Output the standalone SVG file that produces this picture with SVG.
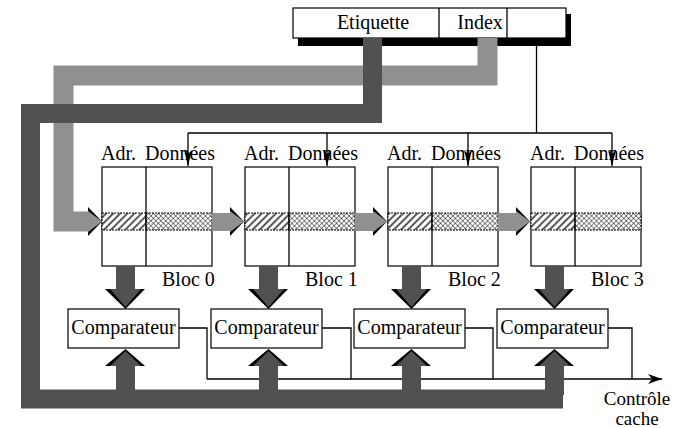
<svg xmlns="http://www.w3.org/2000/svg" width="681" height="428" viewBox="0 0 681 428">
<style>
text{font-family:"Liberation Serif","Times New Roman",serif;font-size:20px;fill:#000}
.small{font-size:19px}
.box{fill:#fff;stroke:#000;stroke-width:1.2}
.thin{fill:none;stroke:#000;stroke-width:1.3}
.dark{fill:#515151}
.light{fill:#909090}
.blk{fill:#000}
.strip{stroke:#000;stroke-width:1;stroke-dasharray:2 1}
</style>
<defs>
<pattern id="diag" width="5" height="5" patternUnits="userSpaceOnUse" patternTransform="rotate(45)">
<rect width="5" height="5" fill="#fff"/>
<line x1="1" y1="0" x2="1" y2="5" stroke="#000" stroke-width="1.3"/>
</pattern>
<pattern id="cross" width="3.5" height="3.5" patternUnits="userSpaceOnUse" patternTransform="rotate(45)">
<rect width="3.5" height="3.5" fill="#fff"/>
<line x1="0" y1="0" x2="0" y2="3.5" stroke="#000" stroke-width="0.9"/>
<line x1="0" y1="0" x2="3.5" y2="0" stroke="#000" stroke-width="0.9"/>
</pattern>
<marker id="ah" markerWidth="14" markerHeight="10" refX="14" refY="5" orient="auto" markerUnits="userSpaceOnUse">
<path d="M0,0 L14,5 L0,10 L4,5 Z" fill="#000"/>
</marker>
<marker id="ah2" markerWidth="16" markerHeight="10" refX="16" refY="5" orient="auto" markerUnits="userSpaceOnUse">
<path d="M0,1 L16,5 L0,9 L4,5 Z" fill="#000"/>
</marker>
</defs>

<g id="adresse">
<rect x="298" y="14" width="273" height="32" fill="#000"/>
<rect class="box" x="293" y="8" width="273" height="30"/>
<line class="thin" x1="439" y1="8" x2="439" y2="38"/>
<line class="thin" x1="507" y1="8" x2="507" y2="38"/>
<text x="373" y="29" text-anchor="middle">Etiquette</text>
<text x="480" y="29" text-anchor="middle">Index</text>
</g>

<g id="connecteurs">
<path d="M487.5,38 V75.5 H63.5 V221.5 H90" fill="none" stroke="#909090" stroke-width="20" stroke-linejoin="miter"/>
<path d="M372.5,38 V113.5 H30.5 V399 H563" fill="none" stroke="#515151" stroke-width="19" stroke-linejoin="miter"/>
<path class="thin" d="M536.5,46 V133"/>
<path class="thin" d="M188,133 H612"/>
<line class="thin" x1="188" y1="133" x2="188" y2="166" marker-end="url(#ah2)"/>
<line class="thin" x1="327" y1="133" x2="327" y2="166" marker-end="url(#ah2)"/>
<line class="thin" x1="468" y1="133" x2="468" y2="166" marker-end="url(#ah2)"/>
<line class="thin" x1="612" y1="133" x2="612" y2="166" marker-end="url(#ah2)"/>
</g>

<g id="bloc0">
<rect class="box" x="102" y="167" width="110" height="99"/>
<rect class="strip" x="102" y="213" width="44" height="17" fill="url(#diag)"/>
<rect class="strip" x="146" y="213" width="66" height="17" fill="url(#cross)"/>
<line class="thin" x1="146" y1="167" x2="146" y2="266"/>
<text x="101" y="160">Adr.</text>
<text x="145" y="160">Données</text>
<text x="162" y="286">Bloc 0</text>
</g>
<g id="bloc1">
<rect class="box" x="245" y="167" width="110" height="99"/>
<rect class="strip" x="245" y="213" width="44" height="17" fill="url(#diag)"/>
<rect class="strip" x="289" y="213" width="66" height="17" fill="url(#cross)"/>
<line class="thin" x1="289" y1="167" x2="289" y2="266"/>
<text x="244" y="160">Adr.</text>
<text x="288" y="160">Données</text>
<text x="305" y="286">Bloc 1</text>
</g>
<g id="bloc2">
<rect class="box" x="388" y="167" width="110" height="99"/>
<rect class="strip" x="388" y="213" width="44" height="17" fill="url(#diag)"/>
<rect class="strip" x="432" y="213" width="66" height="17" fill="url(#cross)"/>
<line class="thin" x1="432" y1="167" x2="432" y2="266"/>
<text x="387" y="160">Adr.</text>
<text x="431" y="160">Données</text>
<text x="448" y="286">Bloc 2</text>
</g>
<g id="bloc3">
<rect class="box" x="531" y="167" width="110" height="99"/>
<rect class="strip" x="531" y="213" width="44" height="17" fill="url(#diag)"/>
<rect class="strip" x="575" y="213" width="66" height="17" fill="url(#cross)"/>
<line class="thin" x1="575" y1="167" x2="575" y2="266"/>
<text x="530" y="160">Adr.</text>
<text x="574" y="160">Données</text>
<text x="591" y="286">Bloc 3</text>
</g>

<g id="fleches-index">
<polygon class="blk" points="88,207 102,221.5 88,236"/>
<polygon class="light" points="88,211 102,221.5 88,232"/>
<rect class="light" x="212" y="213" width="18" height="18"/>
<polygon class="blk" points="230,207 244,221.5 230,236"/>
<polygon class="light" points="230,211 244,221.5 230,232"/>
<rect class="light" x="355" y="213" width="18" height="18"/>
<polygon class="blk" points="373,207 387,221.5 373,236"/>
<polygon class="light" points="373,211 387,221.5 373,232"/>
<rect class="light" x="498" y="213" width="18" height="18"/>
<polygon class="blk" points="516,207 530,221.5 516,236"/>
<polygon class="light" points="516,211 530,221.5 516,232"/>
</g>

<g id="fleches-blocs">
<rect class="dark" x="116" y="266" width="19" height="23"/>
<polygon class="blk" points="105,289 145,289 125.5,309"/>
<polygon class="dark" points="110,289 141,289 125.5,307"/>
<rect class="dark" x="259" y="266" width="19" height="23"/>
<polygon class="blk" points="248,289 288,289 268.5,309"/>
<polygon class="dark" points="253,289 284,289 268.5,307"/>
<rect class="dark" x="402" y="266" width="19" height="23"/>
<polygon class="blk" points="391,289 431,289 411.5,309"/>
<polygon class="dark" points="396,289 427,289 411.5,307"/>
<rect class="dark" x="545" y="266" width="19" height="23"/>
<polygon class="blk" points="534,289 574,289 554.5,309"/>
<polygon class="dark" points="539,289 570,289 554.5,307"/>
</g>

<g id="comparateur0">
<rect class="box" x="68" y="309" width="111" height="39"/>
<text x="123.5" y="334" text-anchor="middle">Comparateur</text>
</g>
<g id="comparateur1">
<rect class="box" x="211" y="309" width="111" height="39"/>
<text x="266.5" y="334" text-anchor="middle">Comparateur</text>
</g>
<g id="comparateur2">
<rect class="box" x="354" y="309" width="111" height="39"/>
<text x="409.5" y="334" text-anchor="middle">Comparateur</text>
</g>
<g id="comparateur3">
<rect class="box" x="497" y="309" width="111" height="39"/>
<text x="552.5" y="334" text-anchor="middle">Comparateur</text>
</g>

<g id="sorties">
<path class="thin" d="M179,328 H207 V379"/>
<path class="thin" d="M322,328 H351 V379"/>
<path class="thin" d="M465,328 H493 V379"/>
<path class="thin" d="M608,328 H632 V379"/>
<line class="thin" x1="207" y1="379" x2="662" y2="379" marker-end="url(#ah)"/>
</g>

<g id="fleches-etiquette">
<rect class="dark" x="116" y="365" width="19" height="30"/>
<polygon class="blk" points="105,366 145,366 125.5,349"/>
<polygon class="dark" points="110,366 141,366 125.5,351"/>
<rect class="dark" x="259" y="365" width="19" height="30"/>
<polygon class="blk" points="248,366 288,366 268.5,349"/>
<polygon class="dark" points="253,366 284,366 268.5,351"/>
<rect class="dark" x="402" y="365" width="19" height="30"/>
<polygon class="blk" points="391,366 431,366 411.5,349"/>
<polygon class="dark" points="396,366 427,366 411.5,351"/>
<rect class="dark" x="545" y="365" width="19" height="30"/>
<polygon class="blk" points="534,366 574,366 554.5,349"/>
<polygon class="dark" points="539,366 570,366 554.5,351"/>
</g>

<g id="controle">
<text class="small" x="637" y="405" text-anchor="middle">Contrôle</text>
<text class="small" x="637" y="425" text-anchor="middle">cache</text>
</g>
</svg>
